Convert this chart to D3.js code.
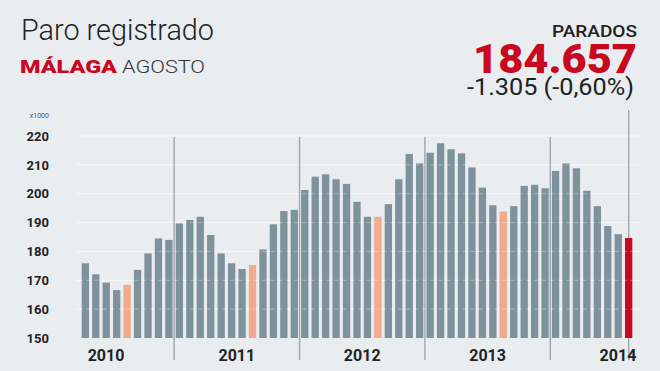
<!DOCTYPE html>
<html>
<head>
<meta charset="utf-8">
<script src="https://cdn.jsdelivr.net/npm/d3@7"></script>
<style>
  html, body { margin: 0; padding: 0; background: #e9edf0; }
  svg { display: block; }
</style>
</head>
<body>
<div id="chart"></div>
<script>
// Paro registrado, Malaga (miles de personas), abril 2010 - agosto 2014
var years = [2010, 2011, 2012, 2013, 2014];
var monthNames = ["ene", "feb", "mar", "abr", "may", "jun", "jul", "ago", "sep", "oct", "nov", "dic"];
var paro2010 = [175.9, 172.1, 169.2, 166.6, 168.4, 173.6, 179.3, 184.5, 184.0]; // abr - dic
var paro2011 = [189.7, 190.9, 192.0, 185.7, 179.3, 175.9, 173.9, 175.3, 180.7, 189.4, 194.0, 194.4];
var paro2012 = [201.3, 205.9, 206.7, 205.0, 203.4, 197.2, 192.0, 192.0, 196.4, 205.0, 213.8, 210.5];
var paro2013 = [214.2, 217.5, 215.4, 214.0, 209.1, 202.1, 196.0, 193.8, 195.7, 202.7, 203.1, 201.9];
var paro2014 = [207.9, 210.5, 208.8, 201.0, 195.7, 188.8, 185.96, 184.657]; // ene - ago
var firstMonth2010 = 3; // abril
var yTicks = [150, 160, 170, 180, 190, 200, 210, 220];

var titleText = "Paro registrado";
var placeText = "MÁLAGA";
var monthText = "AGOSTO";
var kpiLabel = "PARADOS";
var kpiValue = "184.657";
var kpiChange = "-1.305 (-0,60%)";

(function () {
    var width = 660, height = 371;
    var colors = { bar: "#7e929b", august: "#f1aa8c", last: "#c8081f", grid: "#ffffff", divider: "#9ea7ac", text: "#222222" };

    // flatten year arrays into one list of months
    var perYear = [paro2010, paro2011, paro2012, paro2013, paro2014];
    var data = [];
    perYear.forEach(function (vals, yi) {
        var start = yi === 0 ? firstMonth2010 : 0;
        vals.forEach(function (v, i) {
            var m = start + i;
            data.push({ key: years[yi] + "-" + monthNames[m], year: years[yi], month: m, value: v });
        });
    });

    var svg = d3.select("#chart").append("svg")
        .attr("width", width)
        .attr("height", height);

    svg.append("rect").attr("width", width).attr("height", height).attr("fill", "#e9edf0");

    var x = d3.scaleBand()
        .domain(data.map(function (d) { return d.key; }))
        .range([80, 634])
        .paddingInner(0.3)
        .paddingOuter(0.16);

    var y = d3.scaleLinear().domain([150, 220]).range([338, 136]);

    // faint gridlines behind bars
    svg.append("g").selectAll("line").data(yTicks.slice(1)).enter().append("line")
        .attr("x1", 76).attr("x2", 640)
        .attr("y1", function (d) { return y(d); })
        .attr("y2", function (d) { return y(d); })
        .attr("stroke", colors.grid)
        .attr("stroke-opacity", 0.45);

    // year dividers
    var step = x.step(), bw = x.bandwidth();
    var janKeys = data.filter(function (d) { return d.month === 0; });
    svg.append("g").selectAll("line").data(janKeys).enter().append("line")
        .attr("x1", function (d) { return x(d.key) - (step - bw) / 2; })
        .attr("x2", function (d) { return x(d.key) - (step - bw) / 2; })
        .attr("y1", 137).attr("y2", 360)
        .attr("stroke", colors.divider)
        .attr("stroke-width", 1.4);

    var last = data[data.length - 1];
    svg.append("line")
        .attr("x1", x(last.key) + bw / 2).attr("x2", x(last.key) + bw / 2)
        .attr("y1", 110).attr("y2", 360)
        .attr("stroke", colors.divider)
        .attr("stroke-width", 1.4);

    // bars
    svg.append("g").selectAll("rect").data(data).enter().append("rect")
        .attr("x", function (d) { return x(d.key); })
        .attr("y", function (d) { return y(d.value); })
        .attr("width", bw)
        .attr("height", function (d) { return y(150) - y(d.value); })
        .attr("fill", function (d) {
            if (d === last) { return colors.last; }
            return d.month === 7 ? colors.august : colors.bar;
        });

    // gridlines over the bars
    svg.append("g").selectAll("line").data(yTicks.slice(1)).enter().append("line")
        .attr("x1", 78).attr("x2", 636)
        .attr("y1", function (d) { return y(d); })
        .attr("y2", function (d) { return y(d); })
        .attr("stroke", colors.grid)
        .attr("stroke-opacity", 0.3)
        .attr("stroke-dasharray", "5,3");

    // y axis labels
    var yAxis = d3.axisLeft(y).tickValues(yTicks).tickSize(0).tickPadding(0);
    var gy = svg.append("g").attr("transform", "translate(49,0)").call(yAxis);
    gy.select(".domain").remove();
    gy.selectAll("text")
        .attr("font-family", "Roboto, sans-serif")
        .attr("font-weight", 700)
        .attr("font-size", 13)
        .attr("fill", colors.text);

    svg.append("text")
        .attr("x", 49).attr("y", 118)
        .attr("text-anchor", "end")
        .attr("font-family", "Roboto, sans-serif")
        .attr("font-size", 7)
        .attr("fill", "#555")
        .text("x1000");

    // year labels
    svg.append("g").selectAll("text").data(years).enter().append("text")
        .attr("x", function (yr, i) {
            var ds = data.filter(function (d) { return d.year === yr; });
            var x0 = x(ds[0].key), x1 = x(ds[ds.length - 1].key) + bw;
            if (i === 0) { return x0 + 6; }
            if (i === years.length - 1) { return x1 + 4; }
            return (x0 + x1) / 2;
        })
        .attr("y", 361)
        .attr("text-anchor", function (yr, i) {
            if (i === 0) { return "start"; }
            return i === years.length - 1 ? "end" : "middle";
        })
        .attr("font-family", "Roboto, sans-serif")
        .attr("font-weight", 700)
        .attr("font-size", 16)
        .attr("fill", colors.text)
        .text(function (d) { return d; });

    // header
    svg.append("text")
        .attr("x", 21).attr("y", 40)
        .attr("font-family", "Roboto, sans-serif")
        .attr("font-weight", 300)
        .attr("font-size", 30)
        .attr("textLength", 193)
        .attr("lengthAdjust", "spacingAndGlyphs")
        .attr("fill", "#222")
        .text(titleText);

    svg.append("text")
        .attr("x", 20).attr("y", 73)
        .attr("font-family", "Roboto, sans-serif")
        .attr("font-weight", 900)
        .attr("font-size", 19)
        .attr("textLength", 97)
        .attr("lengthAdjust", "spacingAndGlyphs")
        .attr("fill", colors.last)
        .text(placeText);

    svg.append("text")
        .attr("x", 122).attr("y", 73)
        .attr("font-family", "Roboto, sans-serif")
        .attr("font-weight", 300)
        .attr("font-size", 19)
        .attr("textLength", 83)
        .attr("lengthAdjust", "spacingAndGlyphs")
        .attr("fill", "#333")
        .text(monthText);

    svg.append("text")
        .attr("x", 637).attr("y", 36.5)
        .attr("text-anchor", "end")
        .attr("font-family", "Roboto, sans-serif")
        .attr("font-weight", 500)
        .attr("font-size", 16.5)
        .attr("textLength", 85)
        .attr("lengthAdjust", "spacingAndGlyphs")
        .attr("fill", colors.text)
        .text(kpiLabel);

    svg.append("text")
        .attr("x", 637).attr("y", 73)
        .attr("text-anchor", "end")
        .attr("font-family", "Roboto, sans-serif")
        .attr("font-weight", 900)
        .attr("font-size", 40)
        .attr("textLength", 164)
        .attr("lengthAdjust", "spacingAndGlyphs")
        .attr("fill", colors.last)
        .text(kpiValue);

    svg.append("text")
        .attr("x", 634).attr("y", 95)
        .attr("text-anchor", "end")
        .attr("font-family", "Roboto, sans-serif")
        .attr("font-weight", 400)
        .attr("font-size", 23)
        .attr("textLength", 167)
        .attr("lengthAdjust", "spacingAndGlyphs")
        .attr("fill", colors.text)
        .text(kpiChange);
})();
</script>
</body>
</html>
